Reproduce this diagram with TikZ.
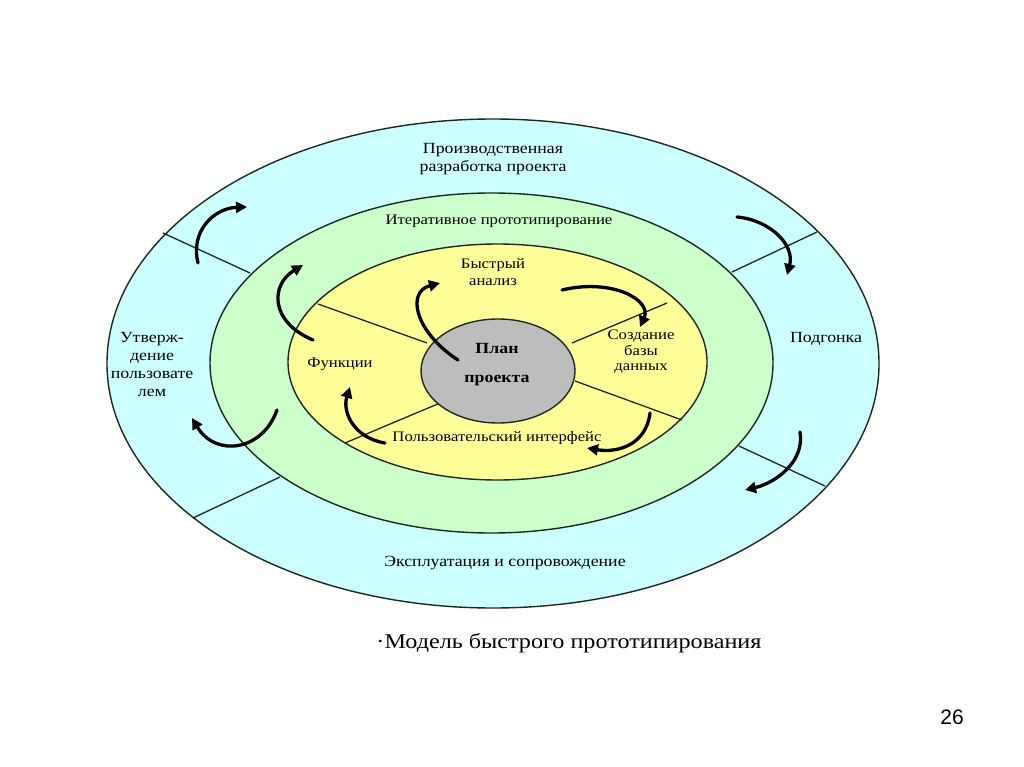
\documentclass[tikz,border=0pt]{standalone}
\usepackage{fontspec}
\setmainfont{Liberation Serif}[FakeStretch=1.15]
\newfontfamily\numfont{Liberation Sans}
\usetikzlibrary{arrows.meta,shapes.geometric}
\definecolor{ringblue}{HTML}{CCFFFF}
\definecolor{ringgreen}{HTML}{CCFFCC}
\definecolor{ringyellow}{HTML}{FFFF99}
\definecolor{coregray}{HTML}{BDBDBD}
\definecolor{edge}{HTML}{1E2A1E}
\tikzset{
  ring/.style={ellipse, draw=edge, line width=1.4pt, inner sep=0pt},
  divider/.style={draw=edge, line width=1.3pt},
  cyc/.style={line width=3.3pt, line cap=round, -{Triangle[length=11pt,width=11pt]}},
  lbl/.style={align=center, inner sep=0pt, font=\fontsize{15.5}{18}\selectfont},
  smalllbl/.style={align=center, inner sep=0pt, font=\fontsize{14.5}{15.5}\selectfont},
}
\begin{document}
\begin{tikzpicture}[x=1pt,y=-1pt]
\useasboundingbox (0,0) rectangle (1024,767);
\fill[white] (0,0) rectangle (1024,767);
% rings
\node[ring, fill=ringblue, minimum width=772pt, minimum height=489pt] (outer) at (493,363.5) {};
\node[ring, fill=ringgreen, minimum width=563pt, minimum height=340pt] (green) at (491.5,363) {};
% outer dividers
\draw[divider] (163,233) -- (250,273);
\draw[divider] (732,272) -- (817,232);
\draw[divider] (280,477) -- (193,518);
\draw[divider] (739,446) -- (825,486);
\node[ring, fill=ringyellow, minimum width=419pt, minimum height=236pt] (yellow) at (497.5,362) {};
% inner dividers
\draw[divider] (318,304) -- (427,343);
\draw[divider] (667,303) -- (572,343);
\draw[divider] (345,443) -- (440,403);
\draw[divider] (575,381) -- (682,420);
\node[ring, fill=coregray, minimum width=154pt, minimum height=104pt] (core) at (498,371) {};
% labels
\node[lbl] (prod) at (493,159) {Производственная\\разработка проекта};
\node[lbl, font=\fontsize{14.5}{17}\selectfont] (iter) at (499,221) {Итеративное прототипирование};
\node[smalllbl, font=\fontsize{14.5}{17}\selectfont] (fast) at (493,272) {Быстрый\\анализ};
\node[smalllbl] (func) at (340,364) {Функции};
\node[align=center, inner sep=0pt, font=\bfseries\fontsize{15.5}{29}\selectfont] (plan) at (497,365) {План\\проекта};
\node[smalllbl] (db) at (641,352) {Создание\\базы\\данных};
\node[lbl, font=\fontsize{14.5}{17}\selectfont] (ui) at (497,438) {Пользовательский интерфейс};
\node[lbl] (user) at (152,364) {Утверж-\\дение\\пользовате\\лем};
\node[lbl] (fit) at (826,339) {Подгонка};
\node[lbl] (expl) at (505,563) {Эксплуатация и сопровождение};
\node[inner sep=0pt, font=\fontsize{21}{24}\selectfont] (cap) at (569,643) {·Модель быстрого прототипирования};
\node[inner sep=0pt, font=\numfont\fontsize{21}{24}\selectfont] (num) at (952,717) {26};
% cycle arrows
\draw[cyc] (198,263) .. controls (190,230) and (215,208) .. (247,207);
\draw[cyc] (737,217) .. controls (770,220) and (795,245) .. (787,275);
\draw[cyc] (800,432) .. controls (805,462) and (775,483) .. (745,490);
\draw[cyc] (277,410) .. controls (262,452) and (215,457) .. (192,418);
\draw[cyc] (313,340) .. controls (270,322) and (270,285) .. (303,265);
\draw[cyc] (458,360) .. controls (415,332) and (406,292) .. (440,283);
\draw[cyc] (562,290) .. controls (612,278) and (652,300) .. (640,327);
\draw[cyc] (650,413) .. controls (646,446) and (616,453) .. (587,448);
\draw[cyc] (385,443) .. controls (354,438) and (342,412) .. (350,387);
\end{tikzpicture}
\end{document}
